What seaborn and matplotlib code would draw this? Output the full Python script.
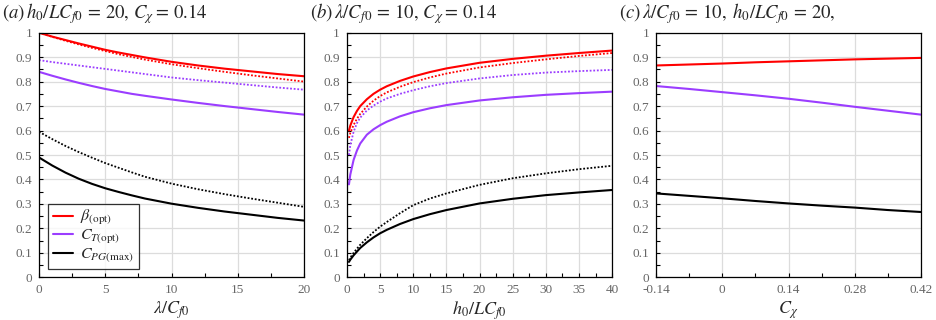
import numpy as np
import pandas as pd
import matplotlib
matplotlib.use('Agg')
import matplotlib.pyplot as plt
from matplotlib.ticker import MultipleLocator, FixedLocator
import seaborn as sns

# ── Data ──────────────────────────────────────────────────────────────────────
# (a) vs lambda/Cf0
lam = [0, 1, 2, 3, 4, 5, 6, 7, 8, 10, 12, 14, 16, 18, 20]
a_beta = [1.0, 0.984, 0.970, 0.956, 0.943, 0.930, 0.919, 0.909, 0.899, 0.881, 0.866, 0.853, 0.842, 0.831, 0.822]
a_beta_dot = [1.0, 0.983, 0.967, 0.952, 0.938, 0.925, 0.912, 0.901, 0.890, 0.871, 0.855, 0.840, 0.826, 0.813, 0.800]
a_ct = [0.840, 0.824, 0.809, 0.795, 0.782, 0.770, 0.760, 0.750, 0.742, 0.727, 0.713, 0.700, 0.688, 0.676, 0.665]
a_ct_dot = [0.888, 0.880, 0.873, 0.866, 0.859, 0.852, 0.845, 0.838, 0.831, 0.817, 0.806, 0.796, 0.786, 0.776, 0.767]
a_cpg = [0.490, 0.457, 0.428, 0.403, 0.382, 0.364, 0.349, 0.335, 0.322, 0.301, 0.284, 0.269, 0.256, 0.243, 0.232]
a_cpg_dot = [0.595, 0.565, 0.537, 0.512, 0.489, 0.467, 0.448, 0.429, 0.411, 0.383, 0.360, 0.340, 0.322, 0.305, 0.288]

# (b) vs h0/LCf0
h0 = [0.3, 0.5, 1, 1.5, 2, 3, 4, 5, 6, 8, 10, 12.5, 15, 20, 25, 30, 35, 40]
b_beta = [0.600, 0.620, 0.655, 0.680, 0.700, 0.728, 0.750, 0.767, 0.781, 0.803, 0.821, 0.839, 0.854, 0.877, 0.893, 0.906, 0.917, 0.927]
b_beta_dot = [0.570, 0.590, 0.623, 0.648, 0.668, 0.698, 0.722, 0.741, 0.756, 0.779, 0.798, 0.817, 0.833, 0.858, 0.876, 0.891, 0.905, 0.917]
b_ct = [0.380, 0.420, 0.480, 0.518, 0.547, 0.583, 0.605, 0.622, 0.636, 0.658, 0.675, 0.691, 0.704, 0.723, 0.736, 0.746, 0.753, 0.759]
b_ct_dot = [0.500, 0.540, 0.595, 0.630, 0.653, 0.682, 0.702, 0.718, 0.731, 0.750, 0.765, 0.781, 0.794, 0.813, 0.827, 0.837, 0.843, 0.848]
b_cpg = [0.063, 0.072, 0.090, 0.105, 0.120, 0.143, 0.163, 0.180, 0.194, 0.218, 0.238, 0.258, 0.275, 0.302, 0.321, 0.336, 0.347, 0.357]
b_cpg_dot = [0.070, 0.080, 0.100, 0.117, 0.133, 0.160, 0.185, 0.207, 0.226, 0.262, 0.295, 0.322, 0.343, 0.378, 0.405, 0.425, 0.442, 0.456]

# (c) vs C_chi
cchi = [-0.14, -0.07, 0.0, 0.07, 0.14, 0.21, 0.28, 0.35, 0.42]
c_beta = [0.866, 0.870, 0.874, 0.879, 0.883, 0.887, 0.891, 0.894, 0.897]
c_ct = [0.782, 0.770, 0.757, 0.744, 0.730, 0.714, 0.697, 0.681, 0.665]
c_cpg = [0.343, 0.333, 0.323, 0.312, 0.302, 0.293, 0.285, 0.275, 0.267]

titles = [r'$(a)\,h_0/LC_{f0}\,=\,20,\,C_\chi=\,0.14$',
          r'$(b)\,\lambda/C_{f0}\,=\,10,\,C_\chi=\,0.14$',
          r'$(c)\,\lambda/C_{f0}\,=\,10,\;h_0/LC_{f0}\,=\,20,$']
xlabels = [r'$\lambda/C_{f0}$', r'$h_0/LC_{f0}$', r'$C_\chi$']
c_ticks = [-0.14, 0, 0.14, 0.28, 0.42]
c_ticklabels = ['-0.14', '0', '0.14', '0.28', '0.42']

RED, PURPLE, BLACK = '#ff0000', '#9b3dff', '#000000'
DOT = (0, (1, 1))

# ── Style ─────────────────────────────────────────────────────────────────────
sns.set_style('white')
plt.rcParams['mathtext.fontset'] = 'stix'
plt.rcParams['font.family'] = ['Liberation Serif', 'DejaVu Serif']

fig = plt.figure(figsize=(9.37, 3.2), dpi=100)
lefts = [0.0416, 0.3703, 0.7001]
axes = [fig.add_axes([l, 0.1334, 0.2830, 0.7644]) for l in lefts]

# ── (a) ───────────────────────────────────────────────────────────────────────
ax = axes[0]
sns.lineplot(x=lam, y=a_beta, ax=ax, color=RED, lw=1.5, label=r'$\beta_{\mathrm{(opt)}}$')
sns.lineplot(x=lam, y=a_ct, ax=ax, color=PURPLE, lw=1.5, label=r'$C_{T\mathrm{(opt)}}$')
sns.lineplot(x=lam, y=a_cpg, ax=ax, color=BLACK, lw=1.5, label=r'$C_{PG\mathrm{(max)}}$')
sns.lineplot(x=lam, y=a_beta_dot, ax=ax, color=RED, lw=1.3, linestyle=DOT)
sns.lineplot(x=lam, y=a_ct_dot, ax=ax, color=PURPLE, lw=1.3, linestyle=DOT)
sns.lineplot(x=lam, y=a_cpg_dot, ax=ax, color=BLACK, lw=1.3, linestyle=DOT)
ax.set_xlim(0, 20)
ax.xaxis.set_major_locator(MultipleLocator(5))
ax.xaxis.set_minor_locator(MultipleLocator(2.5))
leg = ax.legend(loc='lower left', bbox_to_anchor=(0.035, 0.034), borderaxespad=0,
                fontsize=11.5, frameon=True, fancybox=False, edgecolor='black',
                handlelength=1.25, handletextpad=0.45, labelspacing=0.02, borderpad=0.3)
leg.get_frame().set_linewidth(0.9)

# ── (b) ───────────────────────────────────────────────────────────────────────
ax = axes[1]
sns.lineplot(x=h0, y=b_beta, ax=ax, color=RED, lw=1.5)
sns.lineplot(x=h0, y=b_ct, ax=ax, color=PURPLE, lw=1.5)
sns.lineplot(x=h0, y=b_cpg, ax=ax, color=BLACK, lw=1.5)
sns.lineplot(x=h0, y=b_beta_dot, ax=ax, color=RED, lw=1.3, linestyle=DOT)
sns.lineplot(x=h0, y=b_ct_dot, ax=ax, color=PURPLE, lw=1.3, linestyle=DOT)
sns.lineplot(x=h0, y=b_cpg_dot, ax=ax, color=BLACK, lw=1.3, linestyle=DOT)
ax.set_xlim(0, 40)
ax.xaxis.set_major_locator(MultipleLocator(5))
ax.xaxis.set_minor_locator(MultipleLocator(2.5))

# ── (c) ───────────────────────────────────────────────────────────────────────
ax = axes[2]
sns.lineplot(x=cchi, y=c_beta, ax=ax, color=RED, lw=1.5)
sns.lineplot(x=cchi, y=c_ct, ax=ax, color=PURPLE, lw=1.5)
sns.lineplot(x=cchi, y=c_cpg, ax=ax, color=BLACK, lw=1.5)
ax.set_xlim(-0.14, 0.42)
ax.xaxis.set_major_locator(FixedLocator(c_ticks))
ax.set_xticklabels(c_ticklabels)
ax.xaxis.set_minor_locator(MultipleLocator(0.07))

# ── Common axis styling ───────────────────────────────────────────────────────
for i, ax in enumerate(axes):
    ax.set_ylim(0, 1)
    ax.yaxis.set_minor_locator(MultipleLocator(0.05))
    ax.set_yticks(np.arange(0, 1.01, 0.1))
    ax.set_yticklabels(['0', '0.1', '0.2', '0.3', '0.4', '0.5', '0.6', '0.7', '0.8', '0.9', '1'])
    ax.grid(True, which='major', color='#dcdcdc', lw=0.9)
    ax.set_axisbelow(True)
    for s in ax.spines.values():
        s.set_visible(True)
        s.set_color('black')
        s.set_linewidth(0.9)
    ax.tick_params(which='both', direction='in', left=True, bottom=True,
                   top=False, right=False, colors='black', labelcolor='#666666',
                   labelsize=9.5)
    ax.tick_params(which='major', length=3, width=0.8, pad=5)
    ax.tick_params(which='minor', length=3, width=0.8)
    ax.set_xlabel(xlabels[i], fontsize=13, labelpad=2)
    fig.text(lefts[i] - 0.0395, 1 - 18.5 / 320, titles[i], fontsize=13.5, va='baseline', ha='left')

fig.savefig('out.png', dpi=100)
